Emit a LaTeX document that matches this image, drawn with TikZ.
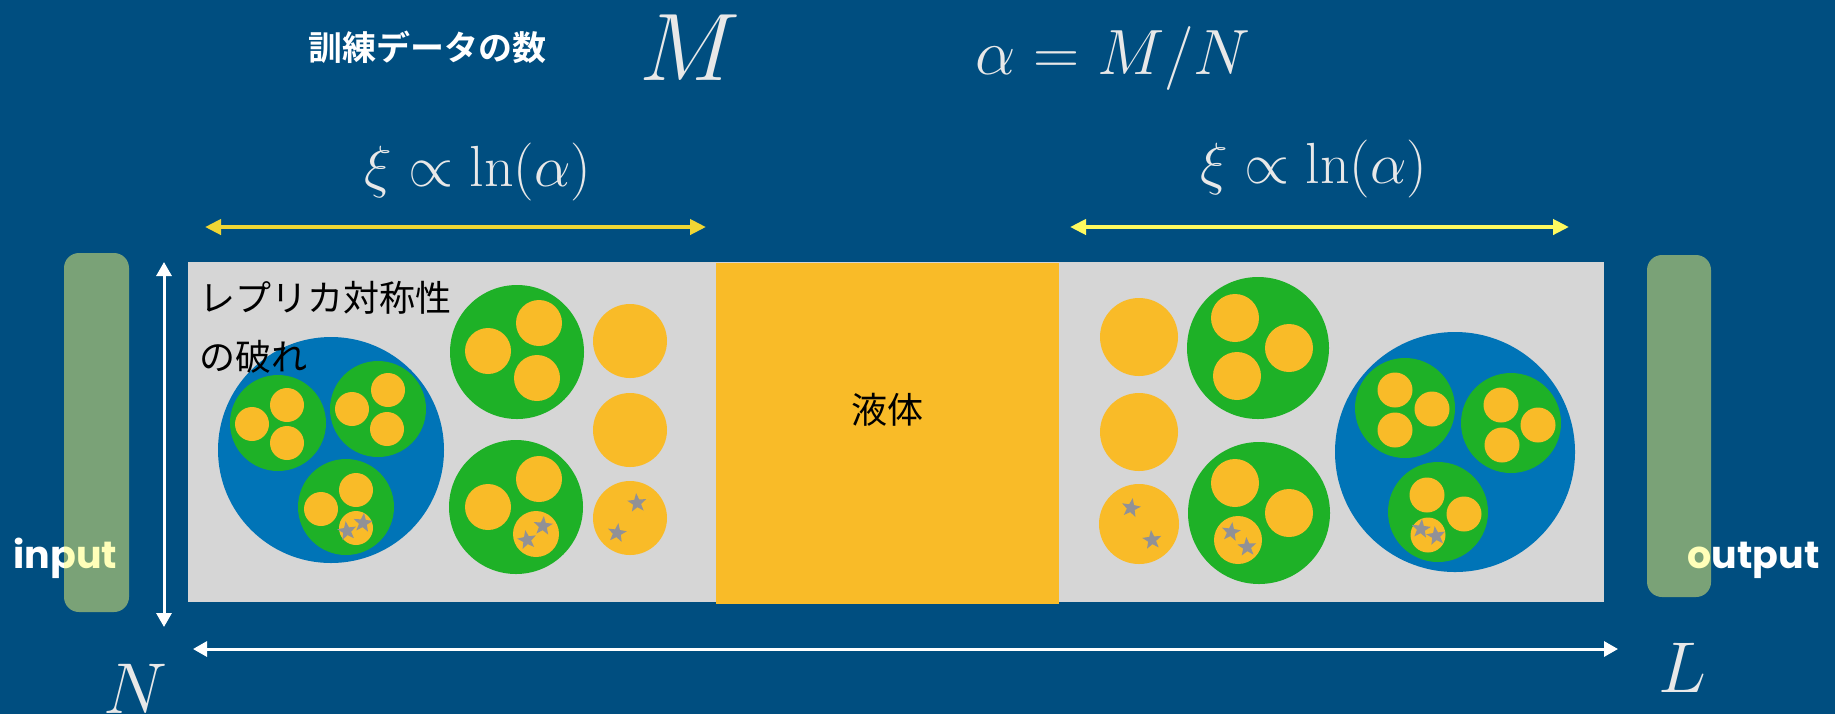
\RequirePackage{fix-cm}
\documentclass[tikz,border=0pt]{standalone}
\usepackage{fontspec}
\newfontfamily\jpfont{Noto Sans CJK JP}[BoldFont={Noto Sans CJK JP Bold}]
\newfontfamily\iofont{Poppins}
\usepackage{tikz}
\usetikzlibrary{arrows.meta, shapes.geometric}
\usepackage{xcolor}
\definecolor{slideblue}{RGB}{0,78,128}
\definecolor{chaingrey}{RGB}{214,214,214}
\definecolor{liquidorange}{RGB}{249,187,40}
\definecolor{clustergreen}{RGB}{30,177,39}
\definecolor{clusterblue}{RGB}{0,116,183}
\definecolor{stargrey}{RGB}{145,145,150}
\definecolor{xigold}{RGB}{240,214,52}
\definecolor{xilemon}{RGB}{255,250,95}
\definecolor{mathgrey}{RGB}{232,232,232}
\definecolor{barlight}{RGB}{255,255,110}
\tikzset{
    bluecluster/.style={fill=clusterblue},
    greencluster/.style={fill=clustergreen},
    orangestate/.style={fill=liquidorange},
    starmark/.style={star, star points=5, star point ratio=2.4, fill=stargrey, inner sep=0pt, minimum size=10pt},
    ioband/.style={fill=barlight, fill opacity=0.48, rounded corners=7.5pt},
    sizearrow/.style={{Triangle[length=7pt,width=7.5pt]}-{Triangle[length=7pt,width=7.5pt]}, line width=1.5pt, draw=white},
    xiarrow/.style={{Triangle[length=8pt,width=7.5pt]}-{Triangle[length=8pt,width=7.5pt]}, line width=2pt},
    mathlabel/.style={text=mathgrey, inner sep=0pt},
    jplabel/.style={font=\jpfont\fontsize{18}{20}\selectfont, inner sep=0pt}
}
\begin{document}
\begin{tikzpicture}[x=0.5pt,y=-0.5pt]
    \useasboundingbox (0,0) rectangle (1835,714);
    \fill[slideblue] (0,0) rectangle (1835,714);

    % Chain and liquid block
    \fill[chaingrey] (188,262) rectangle (1604,602);
    \fill[liquidorange] (716,263) rectangle (1059,604);
    \node[jplabel] (liquid) at (887,410) {液体};

    % Left side: broken replica symmetry
    \fill[bluecluster] (331,450) circle (113);
    \fill[greencluster] (278,423) circle (48) (378,409) circle (48) (346,507) circle (48);
    \fill[orangestate] (252,424) circle (17) (287,405) circle (17) (287,443) circle (17);
    \fill[orangestate] (352,409) circle (17) (388,390) circle (17) (387,429) circle (17);
    \fill[orangestate] (321,509) circle (17) (356,490) circle (17) (356,528) circle (17);
    \node[starmark, rotate=8]  (s1) at (347,531) {};
    \node[starmark, rotate=-6] (s2) at (363,523) {};

    \fill[greencluster] (517,352) circle (67) (516,507) circle (67);
    \fill[orangestate] (488,351) circle (23) (539,323) circle (23) (537,378) circle (23);
    \fill[orangestate] (488,507) circle (23) (539,479) circle (23) (536,534) circle (23);
    \node[starmark, rotate=10] (s3) at (527,540) {};
    \node[starmark, rotate=-5] (s4) at (543,526) {};

    \fill[orangestate] (630,341) circle (37) (630,430) circle (37) (630,518) circle (37);
    \node[starmark, rotate=5]  (s5) at (637,503) {};
    \node[starmark, rotate=-8] (s6) at (617,533) {};

    % Right side, mirrored
    \fill[orangestate] (1139,337) circle (39) (1139,432) circle (39) (1139,524) circle (40);
    \node[starmark, rotate=-10] (s7) at (1131,508) {};
    \node[starmark, rotate=6]   (s8) at (1152,540) {};

    \fill[greencluster] (1258,348) circle (71) (1259,513) circle (71);
    \fill[orangestate] (1235,318) circle (24) (1289,348) circle (24) (1237,376) circle (24);
    \fill[orangestate] (1235,483) circle (24) (1289,513) circle (24) (1238,540) circle (24);
    \node[starmark, rotate=-8] (s9)  at (1231,532) {};
    \node[starmark, rotate=4]  (s10) at (1247,547) {};

    \fill[bluecluster] (1455,452) circle (120);
    \fill[greencluster] (1405,408) circle (50) (1511,423) circle (50) (1438,512) circle (50);
    \fill[orangestate] (1395,390) circle (17.5) (1432,409) circle (17.5) (1395,430) circle (17.5);
    \fill[orangestate] (1501,405) circle (17.5) (1538,425) circle (17.5) (1502,445) circle (17.5);
    \fill[orangestate] (1427,495) circle (17.5) (1464,514) circle (17.5) (1428,535) circle (17.5);
    \node[starmark, rotate=-6] (s11) at (1421,529) {};
    \node[starmark, rotate=8]  (s12) at (1436,536) {};

    \node[jplabel, anchor=base west] (rsb1) at (199,311) {レプリカ対称性};
    \node[jplabel, anchor=base west] (rsb2) at (199,370) {の破れ};

    % Header
    \node[font=\jpfont\bfseries\fontsize{17}{19}\selectfont, text=white, inner sep=0pt] (ndata) at (427,47) {訓練データの数};
    \node[mathlabel, font=\fontsize{48}{50}\selectfont] (mlabel) at (690,48) {$M$};
    \node[mathlabel, font=\fontsize{32}{34}\selectfont, anchor=base] (ratio) at (1113,74) {$\alpha = M/N$};
    \node[mathlabel, font=\fontsize{29}{31}\selectfont, anchor=base] (xileft) at (478,186) {$\xi\propto\ln(\alpha)$};
    \node[mathlabel, font=\fontsize{29}{31}\selectfont, anchor=base] (xiright) at (1314,183) {$\xi\propto\ln(\alpha)$};

    % Correlation length arrows
    \coordinate (xlA) at (205,227);
    \coordinate (xlB) at (706,227);
    \coordinate (xrA) at (1070,227);
    \coordinate (xrB) at (1569,227);
    \draw[xiarrow, draw=xigold] (xlA) -- (xlB);
    \draw[xiarrow, draw=xilemon] (xrA) -- (xrB);

    % Width and depth arrows
    \coordinate (nTop) at (164,262);
    \coordinate (nBot) at (164,627);
    \coordinate (lLeft) at (193,649);
    \coordinate (lRight) at (1618,649);
    \draw[sizearrow] (nTop) -- (nBot);
    \draw[sizearrow] (lLeft) -- (lRight);
    \node[mathlabel, font=\fontsize{36}{38}\selectfont, anchor=base] (nlabel) at (135,713) {$N$};
    \node[mathlabel, font=\fontsize{36}{38}\selectfont, anchor=base] (llabel) at (1682,692) {$L$};

    % Input and output layers
    \node[font=\iofont\bfseries\fontsize{19}{21}\selectfont, text=white, inner sep=0pt, anchor=base west] (inp) at (13,568) {input};
    \node[font=\iofont\bfseries\fontsize{19}{21}\selectfont, text=white, inner sep=0pt, anchor=base west] (outp) at (1687,568) {output};
    \fill[ioband] (64,253) rectangle (129,612);
    \fill[ioband] (1647,255) rectangle (1711,597);
\end{tikzpicture}
\end{document}
